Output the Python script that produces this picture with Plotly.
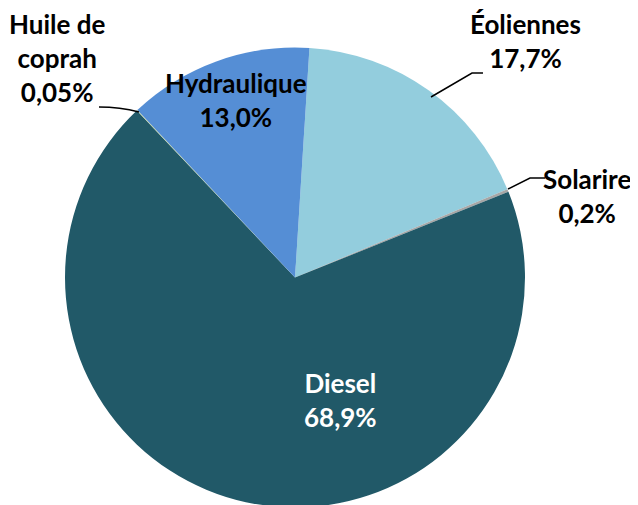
import plotly.graph_objects as go

# Data (clockwise from 12 o'clock)
labels = ["Éoliennes", "Solarire", "Diesel", "Huile de coprah", "Hydraulique"]
values = [17.7, 0.2, 68.9, 0.05, 13.0]
value_text = ["17,7%", "0,2%", "68,9%", "0,05%", "13,0%"]
label_text = ["Éoliennes", "Solarire", "Diesel", "Huile de<br>coprah", "Hydraulique"]
colors = ["#93CDDD", "#A6A6A6", "#215968", "#C3D69B", "#558ED5"]

W, H = 638, 505
OFF = 8  # page body margin

def px_x(x):
    return (x - OFF) / W

def px_y(y):
    return 1 - (y - OFF) / H

fig = go.Figure(go.Pie(
    labels=labels, values=values, sort=False, direction="clockwise",
    rotation=3.6, textinfo="none", hoverinfo="label+percent",
    marker=dict(colors=colors, line=dict(width=0)),
    domain=dict(x=[px_x(65), px_x(525)], y=[px_y(508), px_y(47)]),
    showlegend=False,
))

# label anchor positions (page pixels) and text colors
label_pos = [(525, 41), (587, 196), (340, 400), (57, 58), (236, 100)]
text_colors = ["black", "black", "white", "black", "black"]

for name, val, (px, py), col in zip(label_text, value_text, label_pos, text_colors):
    fig.add_annotation(
        x=px_x(px), y=px_y(py), xref="paper", yref="paper",
        text=f"<b>{name}<br>{val}</b>", showarrow=False,
        font=dict(family="Lato", size=26, color=col),
        align="center", xanchor="center", yanchor="middle",
    )

def p(x, y):
    return f"{px_x(x):.4f},{px_y(y):.4f}"

leaders = [
    f"M{p(483, 73)} L{p(472, 73)} L{p(431, 97)}",
    f"M{p(545, 178)} L{p(530, 178)} L{p(508, 189)}",
    f"M{p(99, 107)} Q{p(120, 107)} {p(139, 112)}",
]
for d in leaders:
    fig.add_shape(type="path", path=d, xref="paper", yref="paper",
                  line=dict(color="black", width=1.5))

fig.update_layout(
    width=W, height=H, margin=dict(l=0, r=0, t=0, b=0),
    paper_bgcolor="white", plot_bgcolor="white",
)

fig.write_html("out.html")
